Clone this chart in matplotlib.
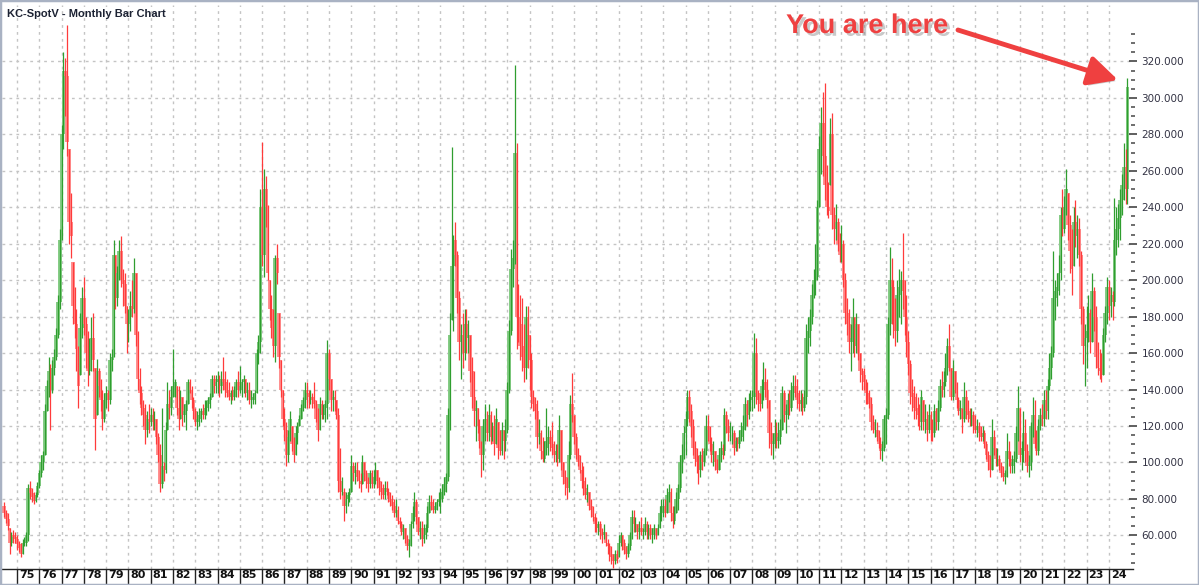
import numpy as np
import matplotlib.pyplot as plt
import matplotlib.patheffects as pe
from matplotlib.ticker import FixedLocator, FuncFormatter

# === 1. 数据 (KC spot, monthly bars, Jun 1974 - Nov 2024) ===
first_open = 76

highs = [
    78, 74, 72, 64, 62, 63, 62,                                  # 1974 (Jun-Dec)
    60, 57, 56, 58, 59, 62, 88, 90, 86, 84, 84, 89,              # 1975
    96, 104, 106, 132, 145, 158, 154, 156, 162, 174, 192, 228,   # 1976
    285, 325, 322, 340, 272, 248, 210, 196, 184, 164, 182, 196,  # 1977
    202, 180, 172, 168, 180, 182, 152, 157, 152, 146, 140, 138,  # 1978
    142, 140, 160, 162, 222, 214, 208, 222, 224, 206, 204, 186,  # 1979
    184, 194, 200, 212, 204, 172, 152, 142, 134, 132, 128, 132,  # 1980
    130, 130, 128, 124, 116, 110, 130, 100, 122, 144, 140, 142,  # 1981
    162, 146, 142, 142, 140, 136, 132, 134, 146, 146, 142, 136,  # 1982
    130, 128, 130, 130, 132, 134, 134, 136, 138, 148, 148, 148,  # 1983
    150, 148, 150, 158, 150, 146, 144, 140, 142, 142, 146, 150,  # 1984
    153, 146, 148, 146, 144, 144, 140, 138, 140, 162, 170, 250,  # 1985
    276, 261, 257, 241, 200, 192, 184, 214, 220, 182, 156, 140,  # 1986
    130, 122, 118, 128, 120, 114, 120, 122, 126, 132, 136, 144,  # 1987
    144, 140, 140, 138, 144, 134, 130, 136, 134, 132, 134, 167,  # 1988
    162, 146, 140, 140, 134, 130, 108, 92, 86, 84, 84, 86,       # 1989
    104, 100, 100, 100, 96, 94, 104, 100, 96, 92, 96, 96,        # 1990
    96, 100, 96, 92, 90, 88, 90, 90, 86, 84, 82, 80,             # 1991
    80, 76, 70, 68, 66, 64, 60, 58, 68, 76, 84, 80,              # 1992
    70, 68, 68, 66, 66, 76, 82, 82, 80, 78, 80, 84,              # 1993
    86, 88, 92, 94, 130, 182, 273, 225, 232, 216, 194, 176,      # 1994
    182, 184, 184, 178, 170, 158, 150, 134, 130, 124, 112, 124,  # 1995
    132, 128, 132, 128, 122, 126, 130, 122, 118, 122, 118, 124,  # 1996
    144, 178, 217, 222, 318, 275, 198, 192, 190, 176, 186, 186,  # 1997
    170, 160, 140, 136, 134, 124, 118, 114, 112, 130, 120, 118,  # 1998
    122, 112, 110, 110, 126, 118, 100, 96, 92, 112, 137, 149,    # 1999
    126, 116, 108, 104, 100, 98, 92, 88, 84, 80, 76, 72,         # 2000
    70, 68, 68, 64, 66, 62, 58, 56, 54, 50, 52, 52,              # 2001
    60, 62, 60, 58, 54, 56, 62, 74, 74, 70, 66, 68,              # 2002
    70, 64, 70, 68, 66, 66, 64, 66, 64, 66, 76, 80,              # 2003
    80, 80, 86, 88, 86, 76, 76, 84, 88, 104, 110, 120,           # 2004
    128, 140, 140, 132, 124, 112, 108, 104, 106, 108, 108, 126,  # 2005
    126, 120, 114, 112, 106, 102, 108, 112, 110, 130, 128, 124,  # 2006
    122, 120, 118, 114, 114, 118, 122, 126, 136, 134, 138, 140,  # 2007
    140, 171, 168, 140, 138, 146, 155, 152, 146, 134, 122, 116,  # 2008
    124, 122, 122, 124, 142, 140, 132, 138, 140, 144, 148, 148,  # 2009
    146, 140, 140, 138, 140, 176, 180, 184, 198, 206, 220, 244,  # 2010
    279, 295, 303, 308, 263, 254, 289, 292, 240, 242, 234, 226,  # 2011
    230, 222, 204, 190, 184, 176, 190, 180, 182, 176, 160, 152,  # 2012
    152, 146, 144, 140, 136, 126, 124, 122, 118, 114, 112, 126,  # 2013
    130, 180, 218, 212, 200, 190, 200, 206, 205, 226, 200, 192,  # 2014
    172, 156, 146, 142, 138, 136, 132, 140, 134, 132, 128, 132,  # 2015
    128, 124, 132, 130, 134, 146, 150, 150, 160, 168, 176, 152,  # 2016
    156, 150, 144, 136, 134, 130, 144, 140, 134, 130, 130, 128,  # 2017
    126, 124, 122, 120, 120, 118, 112, 106, 104, 124, 118, 108,  # 2018
    108, 104, 100, 98, 96, 116, 112, 106, 104, 106, 120, 142,    # 2019
    130, 112, 128, 124, 110, 104, 122, 136, 134, 118, 124, 130,  # 2020
    132, 140, 140, 146, 160, 164, 216, 200, 204, 214, 240, 250,  # 2021
    246, 261, 248, 236, 228, 240, 244, 236, 234, 216, 186, 176,  # 2022
    186, 192, 184, 204, 196, 186, 166, 162, 160, 174, 186, 202,  # 2023
    200, 196, 194, 245, 240, 242, 250, 258, 275, 272, 311,       # 2024 (Jan-Nov)
]

lows = [
    70, 67, 63, 50, 54, 56, 56,
    52, 51, 48, 50, 54, 54, 57, 80, 78, 77, 78, 81,
    86, 92, 96, 104, 128, 136, 118, 138, 148, 156, 168, 184,
    222, 272, 290, 268, 220, 212, 176, 168, 150, 130, 148, 168,
    170, 152, 142, 148, 150, 150, 107, 126, 136, 128, 118, 122,
    130, 128, 132, 150, 158, 184, 186, 200, 196, 186, 182, 160,
    166, 172, 180, 182, 164, 140, 132, 126, 120, 110, 114, 116,
    120, 118, 118, 110, 100, 84, 86, 90, 94, 118, 124, 126,
    136, 136, 126, 118, 124, 120, 122, 118, 132, 138, 130, 124,
    120, 118, 120, 122, 124, 124, 126, 128, 130, 136, 138, 138,
    138, 136, 138, 140, 136, 136, 134, 132, 134, 134, 136, 136,
    138, 136, 138, 136, 134, 132, 130, 132, 132, 138, 154, 160,
    208, 202, 229, 200, 178, 168, 158, 155, 198, 152, 136, 120,
    112, 98, 100, 112, 106, 100, 104, 110, 120, 124, 128, 130,
    130, 130, 132, 130, 130, 122, 112, 118, 124, 124, 122, 124,
    140, 128, 128, 128, 124, 84, 80, 82, 68, 72, 76, 78,
    84, 90, 88, 90, 86, 84, 88, 90, 86, 84, 86, 86,
    86, 88, 86, 82, 80, 80, 80, 82, 78, 76, 74, 70,
    70, 66, 64, 60, 58, 56, 52, 48, 54, 64, 68, 66,
    60, 58, 54, 56, 58, 62, 72, 74, 72, 72, 74, 76,
    72, 78, 82, 84, 90, 118, 178, 172, 208, 182, 156, 146,
    152, 156, 160, 160, 144, 130, 120, 112, 116, 108, 92, 96,
    112, 112, 112, 110, 112, 104, 110, 102, 104, 104, 102, 106,
    116, 138, 170, 196, 209, 162, 166, 156, 150, 144, 146, 152,
    140, 130, 128, 124, 108, 110, 102, 100, 100, 104, 104, 106,
    104, 100, 100, 98, 100, 96, 88, 82, 80, 84, 102, 122,
    110, 102, 98, 94, 86, 82, 80, 78, 74, 70, 68, 62,
    62, 60, 58, 56, 58, 54, 50, 46, 44, 42, 44, 45,
    48, 54, 52, 50, 47, 48, 52, 58, 62, 62, 58, 58,
    60, 58, 60, 58, 58, 58, 56, 58, 58, 60, 64, 68,
    70, 70, 72, 78, 68, 64, 66, 72, 74, 84, 94, 102,
    104, 120, 122, 114, 104, 98, 94, 88, 92, 96, 98, 104,
    112, 106, 100, 98, 96, 94, 96, 100, 102, 104, 116, 112,
    112, 110, 104, 106, 106, 108, 112, 112, 118, 120, 124, 128,
    128, 130, 132, 128, 128, 130, 134, 136, 130, 108, 104, 102,
    108, 108, 108, 110, 118, 122, 116, 124, 126, 128, 134, 136,
    130, 128, 128, 126, 128, 132, 160, 164, 176, 190, 192, 200,
    240, 258, 257, 244, 236, 234, 252, 228, 220, 222, 216, 210,
    210, 196, 176, 170, 160, 150, 160, 158, 160, 156, 144, 140,
    140, 132, 132, 130, 118, 116, 114, 112, 108, 102, 101, 106,
    110, 124, 170, 176, 168, 164, 166, 180, 176, 184, 170, 158,
    148, 132, 128, 124, 124, 120, 118, 118, 118, 116, 112, 116,
    112, 112, 114, 118, 118, 128, 136, 136, 142, 148, 150, 134,
    134, 138, 130, 126, 124, 116, 122, 124, 122, 120, 120, 116,
    116, 114, 112, 112, 112, 108, 102, 96, 92, 96, 104, 98,
    98, 96, 92, 90, 88, 92, 98, 94, 94, 94, 100, 112,
    100, 96, 100, 100, 95, 92, 96, 114, 108, 104, 104, 118,
    120, 120, 124, 124, 140, 146, 158, 178, 186, 192, 200, 224,
    226, 236, 222, 204, 192, 208, 218, 212, 208, 176, 154, 142,
    152, 166, 160, 166, 172, 152, 148, 146, 144, 148, 166, 176,
    178, 180, 178, 186, 214, 218, 222, 236, 244, 242, 242,
]

closes = [
    72, 69, 65, 56, 60, 59, 58,
    55, 53, 50, 56, 56, 60, 86, 83, 81, 79, 82, 87,
    94, 100, 104, 128, 142, 150, 140, 152, 158, 170, 188, 222,
    280, 315, 312, 276, 232, 224, 186, 176, 162, 142, 174, 190,
    176, 160, 150, 162, 168, 156, 124, 150, 142, 134, 124, 134,
    138, 134, 156, 158, 214, 190, 204, 216, 200, 198, 186, 176,
    180, 186, 184, 204, 170, 146, 138, 130, 126, 118, 124, 122,
    126, 122, 124, 114, 104, 88, 98, 96, 118, 132, 130, 136,
    142, 144, 130, 124, 136, 126, 128, 132, 144, 140, 134, 128,
    122, 124, 126, 128, 126, 130, 132, 134, 136, 146, 142, 144,
    146, 142, 146, 144, 140, 138, 136, 138, 136, 140, 144, 140,
    142, 144, 146, 138, 140, 134, 134, 136, 138, 160, 166, 240,
    214, 250, 240, 204, 184, 174, 164, 212, 204, 158, 140, 124,
    118, 104, 114, 124, 110, 104, 116, 120, 124, 130, 134, 140,
    138, 136, 136, 134, 132, 124, 118, 132, 126, 130, 132, 160,
    146, 134, 136, 134, 126, 90, 84, 84, 76, 80, 82, 84,
    98, 94, 96, 92, 90, 88, 100, 94, 90, 88, 94, 88,
    92, 96, 90, 86, 84, 82, 86, 84, 80, 78, 76, 72,
    74, 68, 66, 62, 64, 58, 54, 56, 66, 72, 78, 70,
    62, 64, 58, 60, 64, 72, 78, 76, 74, 76, 78, 80,
    80, 84, 88, 92, 126, 170, 208, 222, 214, 190, 166, 170,
    160, 176, 168, 170, 150, 136, 128, 130, 120, 112, 104, 120,
    124, 116, 126, 114, 120, 110, 124, 108, 106, 118, 112, 118,
    140, 172, 206, 212, 270, 180, 176, 164, 158, 152, 180, 170,
    156, 136, 132, 128, 114, 116, 106, 102, 108, 112, 114, 110,
    108, 104, 106, 102, 118, 100, 92, 88, 86, 104, 132, 126,
    114, 104, 100, 96, 90, 86, 82, 84, 76, 74, 70, 66,
    64, 66, 62, 60, 62, 56, 54, 50, 48, 46, 50, 47,
    56, 60, 56, 52, 50, 54, 60, 70, 66, 66, 62, 64,
    62, 62, 66, 62, 64, 60, 60, 64, 60, 64, 72, 76,
    76, 72, 82, 84, 72, 68, 72, 80, 86, 100, 104, 116,
    124, 136, 128, 120, 108, 102, 100, 96, 104, 100, 106, 120,
    118, 110, 104, 106, 100, 96, 104, 108, 106, 126, 120, 116,
    116, 116, 108, 112, 110, 114, 118, 120, 132, 126, 134, 136,
    136, 160, 138, 134, 132, 142, 144, 140, 134, 116, 110, 112,
    116, 112, 114, 118, 138, 126, 128, 134, 130, 140, 142, 138,
    134, 132, 134, 130, 136, 168, 172, 180, 192, 200, 202, 240,
    272, 286, 268, 252, 240, 238, 280, 236, 228, 232, 220, 214,
    220, 200, 182, 176, 166, 168, 180, 164, 176, 160, 150, 148,
    144, 138, 136, 132, 122, 118, 118, 114, 110, 106, 108, 124,
    126, 176, 200, 196, 180, 172, 192, 196, 200, 194, 180, 166,
    154, 138, 136, 130, 128, 126, 122, 136, 122, 124, 118, 126,
    118, 116, 128, 122, 130, 142, 140, 144, 152, 164, 152, 136,
    150, 140, 134, 128, 130, 124, 136, 128, 126, 124, 126, 120,
    118, 120, 116, 114, 116, 110, 104, 100, 96, 114, 108, 102,
    102, 98, 94, 92, 94, 106, 102, 98, 100, 102, 116, 130,
    104, 108, 116, 106, 98, 100, 120, 126, 110, 106, 120, 126,
    124, 134, 128, 142, 152, 160, 190, 194, 196, 204, 236, 228,
    240, 250, 230, 216, 206, 232, 224, 228, 214, 184, 164, 168,
    172, 182, 166, 194, 180, 158, 152, 150, 148, 170, 182, 196,
    186, 192, 188, 222, 228, 234, 244, 252, 262, 250, 306,
]

year_labels = ['75', '76', '77', '78', '79', '80', '81', '82', '83', '84',
               '85', '86', '87', '88', '89', '90', '91', '92', '93', '94',
               '95', '96', '97', '98', '99', '00', '01', '02', '03', '04',
               '05', '06', '07', '08', '09', '10', '11', '12', '13', '14',
               '15', '16', '17', '18', '19', '20', '21', '22', '23', '24']
months_before_75 = 7  # Jun-Dec 1974

# === 2. 整理 ===
highs = np.array(highs, dtype=float)
lows = np.array(lows, dtype=float)
closes = np.array(closes, dtype=float)
opens = np.concatenate([[first_open], closes[:-1]])
opens = np.clip(opens, lows, highs)
x = np.arange(len(closes))
up = closes >= opens
jan_idx = months_before_75 + 12 * np.arange(len(year_labels))

green_line, green_body = '#2f9e2f', '#86cc86'
red_line, red_body = '#ff3b3b', '#ff9090'

# === 3. 画图 ===
W, H = 1199, 585
fig = plt.figure(figsize=(W / 100, H / 100), dpi=100)
ax = fig.add_axes([2 / W, 16 / H, (1133 - 2) / W, (580 - 16) / H])

ax.bar(x, closes - opens, bottom=opens, width=1.9,
       color=np.where(up, green_body, red_body), linewidth=0, zorder=2)
ax.vlines(x, lows, highs, colors=np.where(up, green_line, red_line),
          linewidth=0.9, zorder=3)

ax.set_xlim(-1.1, 608)
ax.set_ylim(41.5, 351)

# 右侧价格轴
ax.yaxis.tick_right()
ax.set_yticks(np.arange(60, 321, 20))
minor = [v for v in np.arange(45, 340, 5) if v % 20 != 0]
ax.yaxis.set_minor_locator(FixedLocator(minor))
ax.yaxis.set_major_formatter(FuncFormatter(lambda v, p: f"{v:.3f}"))
ax.tick_params(axis='y', which='major', direction='inout', length=6, width=1.2,
               color='#444444', labelsize=7.5, labelcolor='#333344', pad=3)
ax.tick_params(axis='y', which='minor', direction='inout', length=3, width=1.2,
               color='#555555')

# 年份刻度
ax.set_xticks(jan_idx)
ax.set_xticklabels([''] * len(jan_idx))
ax.tick_params(axis='x', direction='out', length=13, width=1, color='#222222')
for xi, lab in zip(jan_idx, year_labels):
    ax.annotate(lab, xy=(xi, 0), xycoords=ax.get_xaxis_transform(),
                xytext=(2, -1), textcoords='offset pixels',
                ha='left', va='top', fontsize=8, fontweight='bold',
                color='#111111', family='DejaVu Sans')

for s in ['left', 'top', 'right']:
    ax.spines[s].set_visible(False)
ax.spines['bottom'].set_color('#222222')
ax.spines['bottom'].set_linewidth(1)

ax.grid(True, which='major', linestyle=(0, (2, 3)), color='#c4c4c4', linewidth=1)
ax.set_axisbelow(True)

# 标题
fig.text(7 / W, 1 - 14 / H, 'KC-SpotV - Monthly Bar Chart', ha='left', va='center',
         fontsize=8, fontweight='bold', color='#1c2233', family='Liberation Sans')

# "You are here"
shadow = [pe.withSimplePatchShadow(offset=(2, -2), shadow_rgbFace='#888888', alpha=0.45)]
fig.text(867 / W, 1 - 26 / H, 'You are here', ha='center', va='center',
         fontsize=19.5, fontweight='bold', color='#ef4040', family='Liberation Sans',
         path_effects=shadow)
ax.annotate('', xy=(1118, H - 80), xytext=(958, H - 30),
            xycoords='figure pixels', textcoords='figure pixels',
            arrowprops=dict(arrowstyle='-|>,head_length=0.9,head_width=0.45',
                            mutation_scale=20, color='#ef4040', lw=3.5,
                            shrinkA=0, shrinkB=0, path_effects=shadow),
            annotation_clip=False)

# 外框
fig.patches.append(plt.Rectangle((0, 0), 1, 1, transform=fig.transFigure,
                                 fill=False, edgecolor='#a9b2c3', linewidth=2.5))

plt.savefig('out.png', dpi=100)
plt.close()
